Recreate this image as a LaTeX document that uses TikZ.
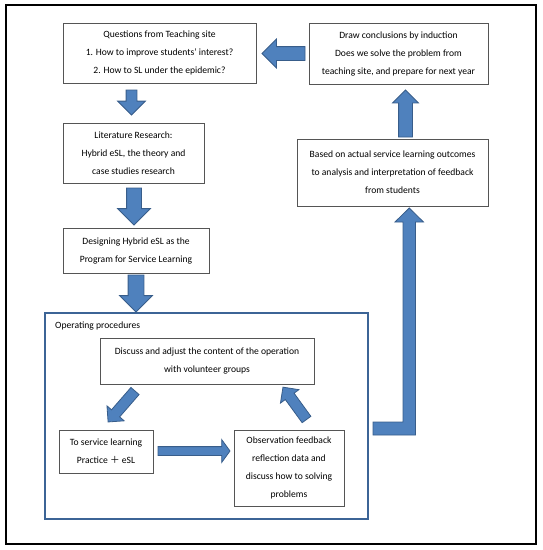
\documentclass[tikz,border=0pt]{standalone}
\usepackage{fontspec}
\setmainfont{Carlito}
\newfontfamily\cjk{Noto Sans CJK SC}
\usetikzlibrary{shapes.arrows}
\definecolor{arrowblue}{RGB}{79,129,189}
\definecolor{arrowedge}{RGB}{56,93,138}
\definecolor{framesteel}{RGB}{60,100,150}
\definecolor{boxline}{RGB}{85,85,85}

\tikzset{
    stepbox/.style={draw=boxline, line width=0.8pt, align=center, inner sep=0pt,
        font=\fontsize{9.6}{18}\selectfont},
    blockarrow/.style={single arrow, draw=arrowedge, fill=arrowblue, line width=0.8pt,
        inner xsep=0pt, outer sep=0pt, anchor=tail, single arrow head indent=0pt}
}

\begin{document}
\begin{tikzpicture}[x=1pt, y=-1pt]

    \useasboundingbox (0,0) rectangle (542,550);
    \draw[line width=1.8pt] (6,5) rectangle (536,544);

    % main steps
    \node[stepbox, minimum width=193pt, minimum height=60pt] (quest) at (159.5,53)
        {Questions from Teaching site\\1. How to improve students' interest?\\2. How to SL under the epidemic?};
    \node[stepbox, minimum width=141pt, minimum height=60pt] (lit) at (133.5,153)
        {Literature Research:\\Hybrid eSL, the theory and\\case studies research};
    \node[stepbox, minimum width=146pt, minimum height=45pt] (design) at (136,250.5)
        {Designing Hybrid eSL as the\\Program for Service Learning};
    \node[stepbox, minimum width=179pt, minimum height=61pt] (concl) at (398.5,53.5)
        {Draw conclusions by induction\\Does we solve the problem from\\teaching site, and prepare for next year};
    \node[stepbox, minimum width=191pt, minimum height=67pt] (outcome) at (392.5,172.5)
        {Based on actual service learning outcomes\\to analysis and interpretation of feedback\\from students};

    % operating procedures
    \node[draw=framesteel, line width=1.6pt, minimum width=323pt, minimum height=206pt,
        inner sep=0pt] (ops) at (206.5,416) {};
    \node[anchor=west, inner sep=0pt, font=\fontsize{9.6}{18}\selectfont] (opslabel)
        at (55,326) {Operating procedures};
    \node[stepbox, minimum width=214pt, minimum height=46pt] (discuss) at (207,361)
        {Discuss and adjust the content of the operation\\with volunteer groups};
    \node[stepbox, minimum width=94pt, minimum height=43pt] (practice) at (106,451.5)
        {To service learning\\Practice {\cjk ＋} eSL};
    \node[stepbox, minimum width=110pt, minimum height=76pt] (observe) at (289,468)
        {Observation feedback\\reflection data and\\discuss how to solving\\problems};

    % block arrows
    \node[blockarrow, rotate=-90, minimum height=25pt, inner ysep=5pt,
        single arrow head extend=8.5pt] (down1) at (131.5,90) {};
    \node[blockarrow, rotate=-90, minimum height=37pt, inner ysep=7pt,
        single arrow head extend=9pt] (down2) at (134,188) {};
    \node[blockarrow, rotate=-90, minimum height=37pt, inner ysep=7.5pt,
        single arrow head extend=8.5pt] (down3) at (136,275) {};
    \node[blockarrow, rotate=180, minimum height=43pt, inner ysep=6.5pt,
        single arrow head extend=7.5pt] (back) at (305,53.5) {};
    \node[blockarrow, rotate=90, minimum height=47pt, inner ysep=6.5pt,
        single arrow head extend=6pt] (up) at (405.5,137) {};
    \node[blockarrow, rotate=229, minimum height=41pt, inner ysep=5pt,
        single arrow head extend=6pt] (diagdown) at (135,391) {};
    \node[blockarrow, minimum height=72pt, inner ysep=4pt, single arrow tip angle=108,
        single arrow head extend=7pt] (across) at (158,451) {};
    \node[blockarrow, rotate=126, minimum height=40pt, inner ysep=5pt,
        single arrow head extend=6pt] (diagup) at (306.5,419.5) {};

    % bent arrow out of the procedures
    \filldraw[draw=arrowedge, fill=arrowblue, line width=0.8pt]
        (373,422) -- (403,422) -- (403,222) -- (395,222) -- (409.25,208)
        -- (423.5,222) -- (415.5,222) -- (415.5,435) -- (373,435) -- cycle;

\end{tikzpicture}
\end{document}
